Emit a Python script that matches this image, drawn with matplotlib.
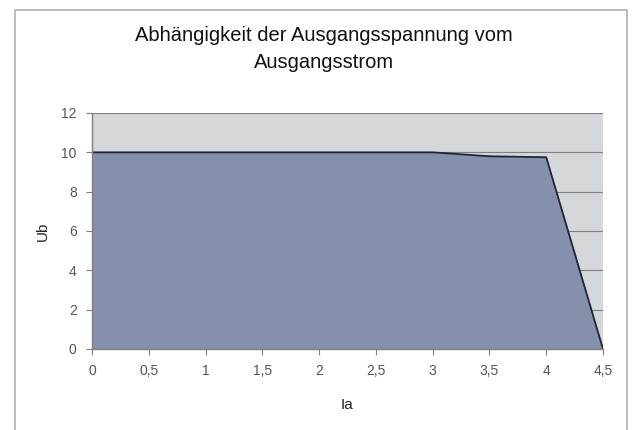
import matplotlib
matplotlib.use("Agg")
import matplotlib.pyplot as plt
from matplotlib.patches import Rectangle

plt.rcParams['font.family'] = ['Liberation Sans', 'DejaVu Sans']

# data
ia = [0, 0.5, 1, 1.5, 2, 2.5, 3, 3.5, 4, 4.5]
ub = [10, 10, 10, 10, 10, 10, 10, 9.8, 9.75, 0]
x_ticks = [0, 0.5, 1, 1.5, 2, 2.5, 3, 3.5, 4, 4.5]
x_labels = ['0', '0,5', '1', '1,5', '2', '2,5', '3', '3,5', '4', '4,5']
y_ticks = [0, 2, 4, 6, 8, 10, 12]

fig = plt.figure(figsize=(6.35, 4.3), dpi=100)
fig.patch.set_facecolor('white')

# outer chart frame (runs off the bottom edge)
fig.patches.append(Rectangle((15 / 635, -0.05), (627 - 15) / 635, 1.05 - 10 / 430,
                             transform=fig.transFigure, fill=False,
                             edgecolor='#b0b0b0', linewidth=1.2))

ax = fig.add_axes([92 / 635, 1 - 349 / 430, (603 - 92) / 635, (349 - 113) / 430])
ax.set_facecolor('#d4d8da')

ax.fill_between(ia, ub, 0, color='#8590ac', zorder=2, linewidth=0)
ax.plot(ia, ub, color='#1f2438', linewidth=1.3, zorder=3)

ax.set_xlim(0, 4.5)
ax.set_ylim(0, 12)
ax.set_xticks(x_ticks)
ax.set_xticklabels(x_labels)
ax.set_yticks(y_ticks)

ax.yaxis.grid(True, color='#7f7f7f', linewidth=0.8, zorder=1)
ax.set_axisbelow(True)

for s in ['top', 'right']:
    ax.spines[s].set_visible(False)
for s in ['left', 'bottom']:
    ax.spines[s].set_color('#808080')
    ax.spines[s].set_linewidth(1.0)
    ax.spines[s].set_zorder(4)

ax.tick_params(axis='both', colors='#808080', length=4, width=0.8,
               labelcolor='#555555', labelsize=10, pad=7)

ax.set_xlabel('Ia', fontsize=11, color='#222222', labelpad=14)
ax.set_ylabel('Ub', fontsize=11, color='#222222', labelpad=8)

fig.text(324 / 635, 1 - 49 / 430, 'Abhängigkeit der Ausgangsspannung vom\nAusgangsstrom',
         ha='center', va='center', fontsize=14.5, color='#111111', linespacing=1.55)

fig.savefig('out.png', dpi=100)
